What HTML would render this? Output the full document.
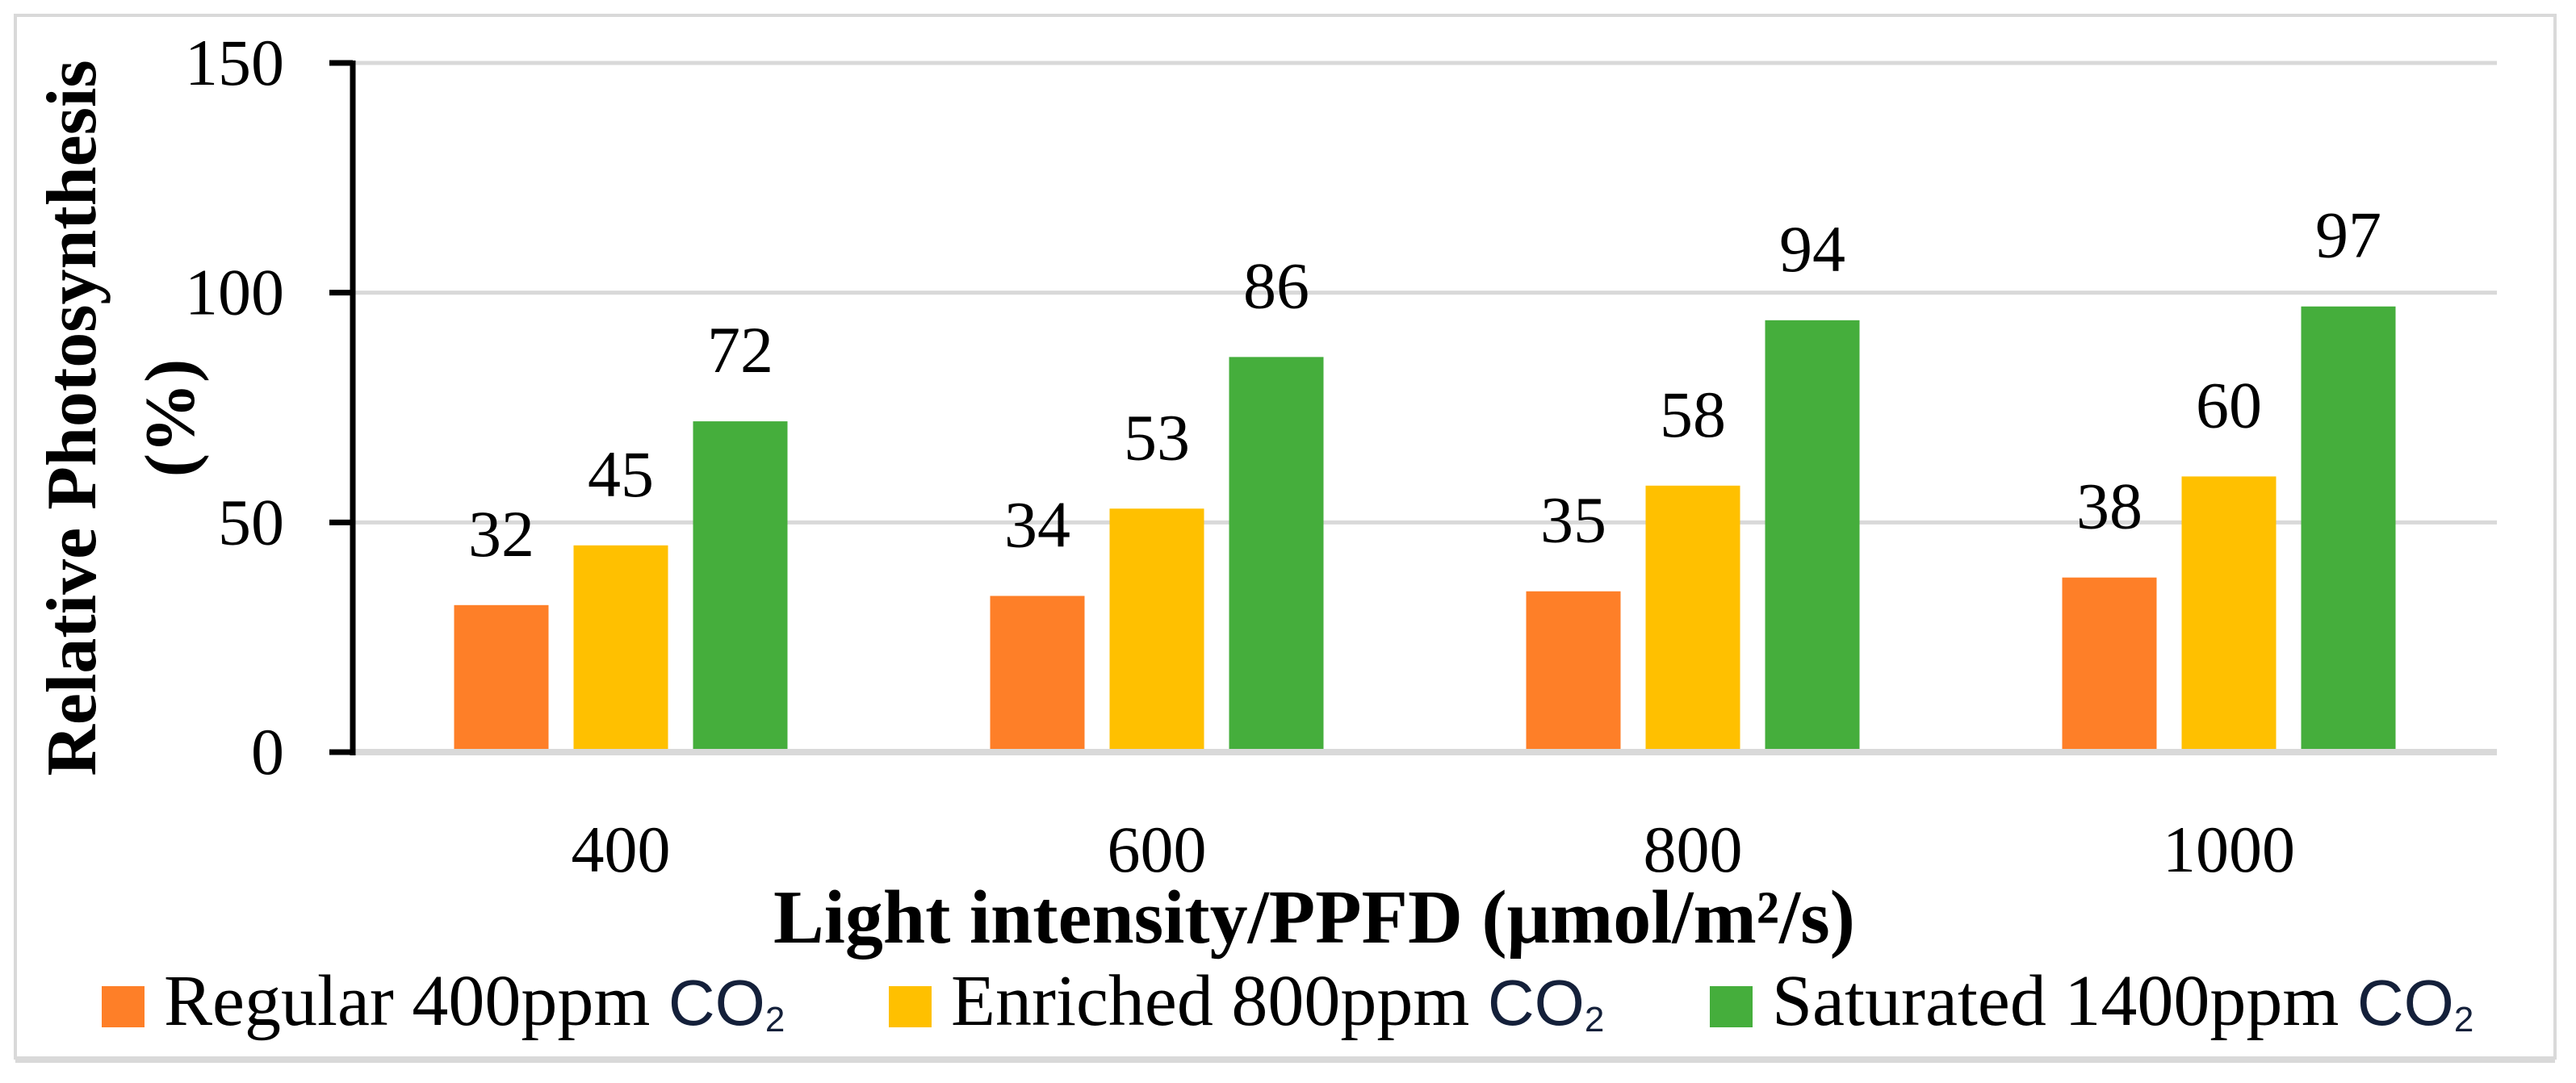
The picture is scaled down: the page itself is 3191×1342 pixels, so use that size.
<!DOCTYPE html>
<html><head><meta charset="utf-8"><style>
html,body{margin:0;padding:0;background:#fff}
svg{display:block}
text{font-family:"Liberation Serif",serif;fill:#000}
</style></head><body>
<svg id="chart" width="3191" height="1342" viewBox="0 0 3191 1342" xmlns="http://www.w3.org/2000/svg">
<rect x="19" y="19" width="3146" height="1292" fill="#fff" stroke="#d9d9d9" stroke-width="4"/>
<rect x="19" y="1309" width="3146" height="8" fill="#d9d9d9"/>
<g id="grid"></g>
<g id="bars"></g>
<g id="labels"></g>
<g id="axes"></g>
<text transform="translate(118,518) rotate(-90)" text-anchor="middle" font-size="88" font-weight="bold">Relative Photosynthesis</text>
<text transform="translate(240,518) rotate(-90)" text-anchor="middle" font-size="88" font-weight="bold">(%)</text>
<text x="1628" y="1168" text-anchor="middle" font-size="94" font-weight="bold">Light intensity/PPFD (μmol/m²/s)</text>
<g id="legend"></g>
</svg>
<script>
const categories = ["400","600","800","1000"];
const regular = [32,34,35,38];
const enriched = [45,53,58,60];
const saturated = [72,86,94,97];
const yTicks = [0,50,100,150];
const seriesNames = ["Regular 400ppm","Enriched 800ppm","Saturated 1400ppm"];

const NS="http://www.w3.org/2000/svg";
const series=[regular,enriched,saturated];
const colors=["#fe7f28","#ffc000","#45ae3c"];
const plotL=437, plotR=3093, y0=932, yMax=150, pxPer=(932-78)/150;
const catW=(plotR-plotL)/categories.length, barW=117, barStep=148;
function yScale(v){return y0-v*pxPer;}
function xCenter(i){return plotL+catW*(i+0.5);}
function mk(tag,attrs,parent){const e=document.createElementNS(NS,tag);for(const k in attrs)e.setAttribute(k,attrs[k]);parent.appendChild(e);return e;}
const grid=document.getElementById('grid'),bars=document.getElementById('bars'),labels=document.getElementById('labels'),axes=document.getElementById('axes'),legend=document.getElementById('legend');
yTicks.forEach(t=>{
  const y=yScale(t);
  const g=mk('line',{x1:plotL,x2:plotR,y1:y,y2:y,stroke:'#d9d9d9','stroke-width':t===0?8:5},grid);
  
  
  const tk=mk('line',{x1:408,x2:plotL,y1:y,y2:y,stroke:'#000','stroke-width':7},axes);
  
  
  const tl=mk('text',{x:352,y:y+27,'text-anchor':'end','font-size':82},axes);
  tl.textContent=t;
  
  
});
const ax=mk('line',{x1:plotL,x2:plotL,y1:yScale(150)-3,y2:y0+4,stroke:'#000','stroke-width':7},axes);


categories.forEach((c,i)=>{
  const cx=xCenter(i);
  series.forEach((s,j)=>{
    const bx=cx+(j-1)*barStep-barW/2, top=yScale(s[i]);
    const r=mk('rect',{x:bx,y:top,width:barW,height:y0-top-4,fill:colors[j]},bars);
    
    
    const t=mk('text',{x:bx+barW/2,y:top-61,'text-anchor':'middle','font-size':82},labels);
    t.textContent=s[i];
    
    
  });
  const xl=mk('text',{x:cx,y:1080,'text-anchor':'middle','font-size':82},axes);
  xl.textContent=c;
  
  
});
const legX=[126,1101,2118];
seriesNames.forEach((n,j)=>{
  const sw=mk('rect',{x:legX[j],y:1222,width:53,height:51,fill:colors[j]},legend);
  
  
  const t=mk('text',{x:legX[j]+77,y:1270,'font-size':90},legend);
  t.textContent=n+' ';
  
  
  const co=mk('tspan',{'font-family':'"Liberation Sans",sans-serif','font-size':80,fill:'#14203a'},t);
  co.textContent='CO';
  const sub=mk('tspan',{'font-family':'"Liberation Sans",sans-serif','font-size':44,dy:8,fill:'#14203a'},t);
  sub.textContent='2';
});
</script>
</body></html>
